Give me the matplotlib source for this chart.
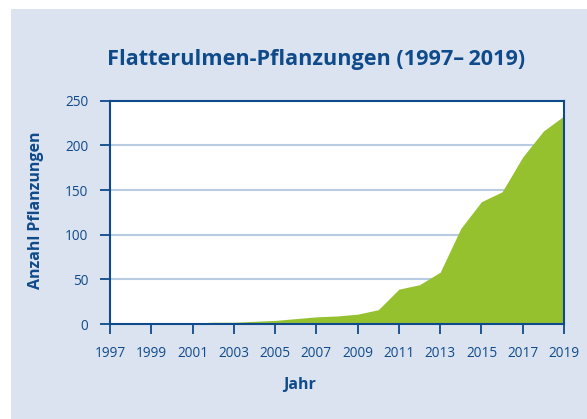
import matplotlib
matplotlib.use("Agg")
import matplotlib.pyplot as plt
from matplotlib.patches import Rectangle

# Flatterulmen-Pflanzungen, kumulativ
years = list(range(1997, 2020))
plantings = [0, 0, 0, 1, 1, 2, 2, 3, 4, 6, 8, 9, 11, 16,
             39, 44, 58, 107, 137, 148, 187, 216, 233]
xticks = list(range(1997, 2020, 2))
yticks = [0, 50, 100, 150, 200, 250]

navy = "#0f4a8a"
panel = "#dbe3f1"
green = "#95c12f"
grid = "#b9cbe3"

plt.rcParams["font.family"] = ["Open Sans", "DejaVu Sans"]

fig = plt.figure(figsize=(5.87, 4.19), dpi=100)
fig.patch.set_facecolor("white")
fig.patches.append(Rectangle((11 / 587, 0), 1, 1 - 9 / 419, transform=fig.transFigure,
                             facecolor=panel, edgecolor="none", zorder=-10))

ax = fig.add_axes([110 / 587, 1 - 324 / 419, 454 / 587, 223.3 / 419])
ax.set_facecolor("white")
ax.fill_between(years, plantings, 0, color=green, linewidth=0, zorder=2)

ax.set_xlim(1997, 2019)
ax.set_ylim(0, 250)
ax.set_xticks(xticks)
ax.set_yticks(yticks)
for v in yticks[1:-1]:
    ax.axhline(v, color=grid, lw=1.5, zorder=1)

for s in ax.spines.values():
    s.set_color(navy)
    s.set_linewidth(1.5)
    s.set_zorder(3)

ax.tick_params(axis="both", colors=navy, direction="out", length=7.5, width=1.3,
               labelsize=9.8, labelcolor=navy)
ax.tick_params(axis="x", pad=8)
ax.tick_params(axis="y", pad=8)

fig.text(316 / 587, 1 - 60 / 419, "Flatterulmen-Pflanzungen (1997\u2013\u20092019)",
         ha="center", va="center", fontsize=15.6, fontweight="bold", color=navy)
fig.text(36 / 587, 1 - 210 / 419, "Anzahl Pflanzungen", rotation=90,
         ha="center", va="center", fontsize=11.5, fontweight="bold", color=navy)
fig.text(300 / 587, 1 - 385 / 419, "Jahr", ha="center", va="center",
         fontsize=11.5, fontweight="bold", color=navy)

fig.savefig("out.png", dpi=100)
